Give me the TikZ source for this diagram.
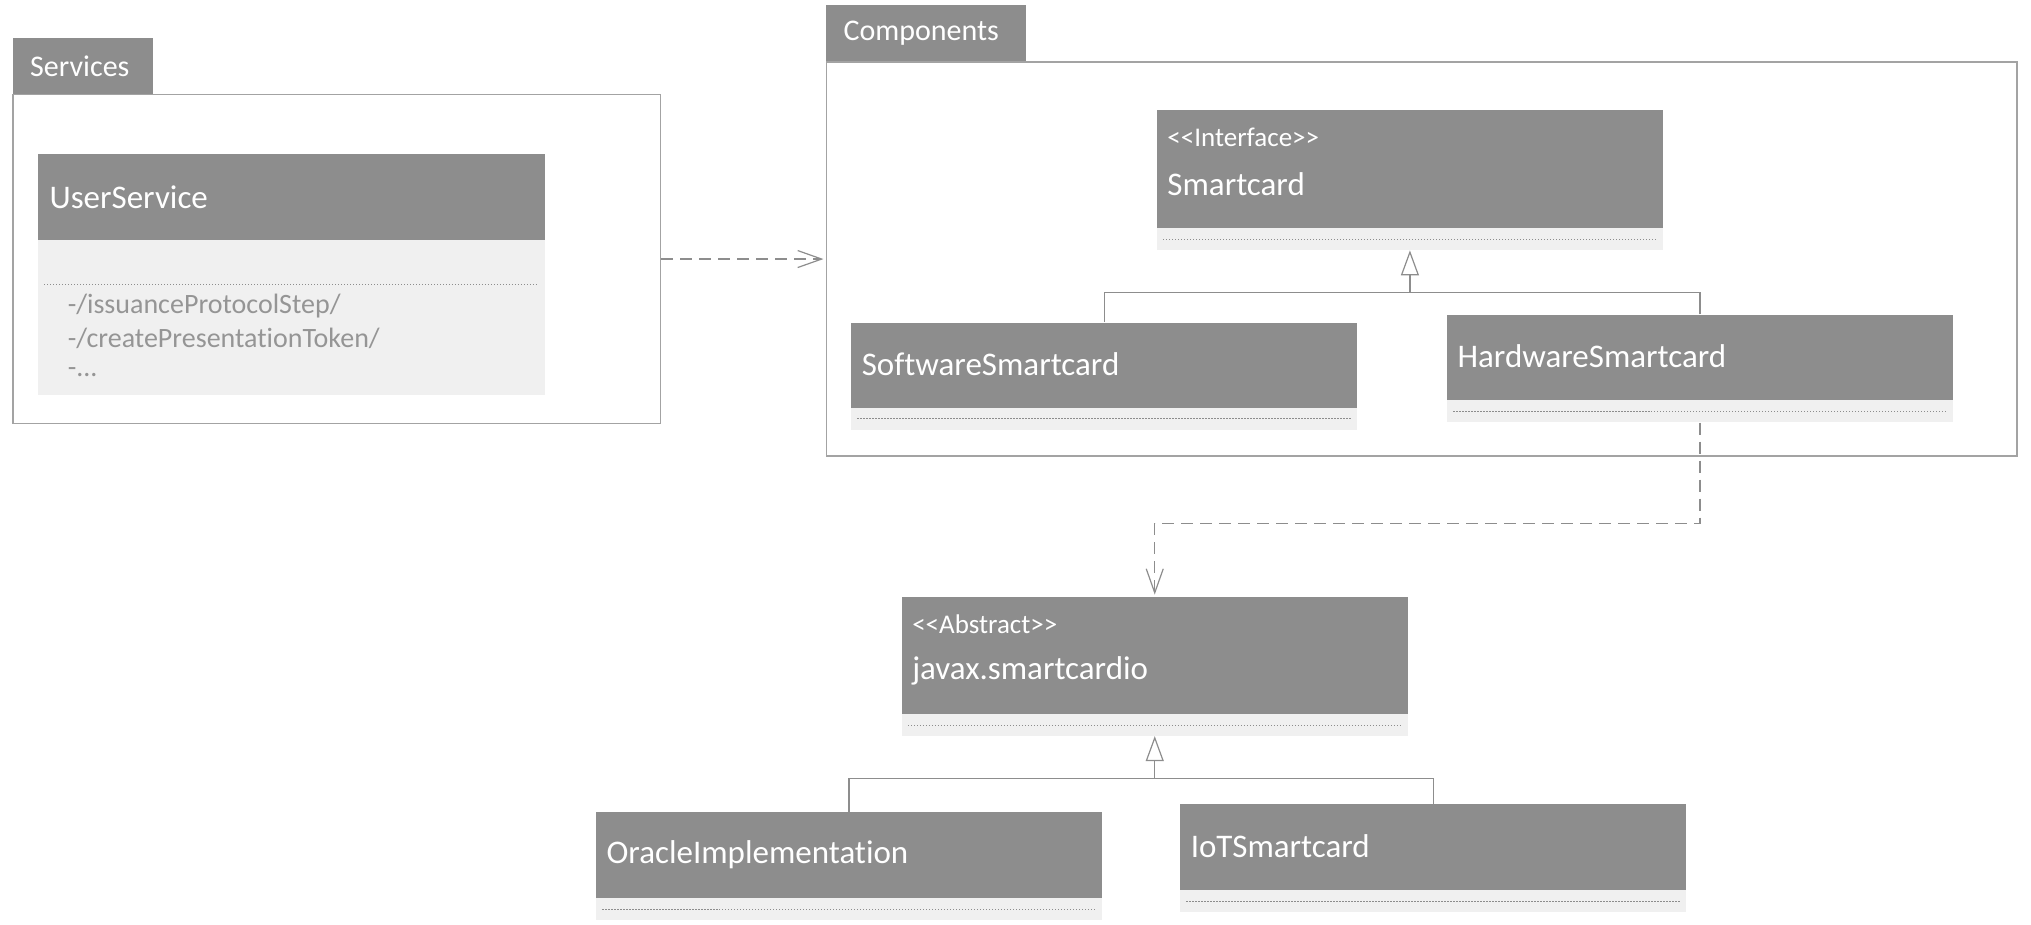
\documentclass[tikz,border=0pt]{standalone}
\usepackage{fontspec}
\setmainfont{Carlito}[Ligatures=NoCommon]
\usepackage{xcolor}
\usetikzlibrary{fit,arrows.meta}
\definecolor{hdrgray}{HTML}{8D8D8D}
\definecolor{bodygray}{HTML}{F0F0F0}
\definecolor{linegray}{HTML}{A3A3A3}
\definecolor{attrgray}{HTML}{959595}

\begin{document}
\begin{tikzpicture}[x=0.6477pt, y=-0.6477pt,
  pkg/.style={rectangle, draw=linegray, line width=0.8pt, fill=white, inner sep=0pt},
  tab/.style={rectangle, fill=hdrgray, inner sep=0pt},
  hdr/.style={rectangle, fill=hdrgray, inner sep=0pt},
  body/.style={rectangle, fill=bodygray, inner sep=0pt},
  title/.style={anchor=west, text=white, inner sep=0pt, font=\fontsize{16.5}{18}\selectfont},
  tabtitle/.style={anchor=west, text=white, inner sep=0pt, font=\fontsize{15}{17}\selectfont},
  stereo/.style={anchor=west, text=white, inner sep=0pt, font=\fontsize{13.5}{15}\selectfont},
  attr/.style={anchor=west, text=attrgray, inner sep=0pt, font=\fontsize{14}{16}\selectfont},
  sep/.style={draw=hdrgray, line width=0.5pt, dash pattern=on 0.6pt off 0.9pt},
  dep/.style={draw=hdrgray, line width=0.6pt, dash pattern=on 6pt off 3.5pt,
    -{Straight Barb[length=12pt, width=8.5pt, line width=0.6pt, sep]}},
  gen/.style={draw=hdrgray, line width=0.6pt,
    -{Triangle[open, length=12.5pt, width=9pt, line width=0.6pt]}},
  link/.style={draw=hdrgray, line width=0.6pt}
]
\useasboundingbox (0,0) rectangle (1568,714);

% Services package
\node[tab, fit={(10,29) (118,73)}] (servtab) {};
\node[pkg, fit={(10,73) (510,327)}] (services) {};
\node[tabtitle] (servlabel) at (23,51) {Services};

% UserService class
\node[hdr, fit={(29,119) (421,185)}] (userhdr) {};
\node[body, fit={(29,185) (421,305)}] (userbody) {};
\node[title] (username) at (38,152) {UserService};
\draw[sep] (34,220) -- (415,220);
\node[attr] (attr1) at (52,236) {-/issuanceProtocolStep/};
\node[attr] (attr2) at (52,261) {-/createPresentationToken/};
\node[attr] (attr3) at (52,287) {-...};

% Components package
\node[tab, fit={(638,4) (792,48)}] (comptab) {};
\node[pkg, fit={(638,48) (1557,352)}] (components) {};
\node[tabtitle] (complabel) at (651,26) {Components};

% Smartcard interface
\node[hdr, fit={(893,85) (1284,176)}] (smarthdr) {};
\node[body, fit={(893,176) (1284,193)}] (smartbody) {};
\node[stereo] (smartst) at (901,106) {<{}<Interface>{}>};
\node[title] (smartname) at (901,142) {Smartcard};
\draw[sep] (898,185) -- (1279,185);

% SoftwareSmartcard
\node[hdr, fit={(657,249) (1048,315)}] (softhdr) {};
\node[body, fit={(657,315) (1048,332)}] (softbody) {};
\node[title] (softname) at (665,281) {SoftwareSmartcard};
\draw[sep] (662,323) -- (1043,323);

% HardwareSmartcard
\node[hdr, fit={(1117,243) (1508,309)}] (hardhdr) {};
\node[body, fit={(1117,309) (1508,326)}] (hardbody) {};
\node[title] (hardname) at (1125,275) {HardwareSmartcard};
\draw[sep] (1122,318) -- (1503,318);

% javax.smartcardio
\node[hdr, fit={(696,461) (1087,551)}] (javahdr) {};
\node[body, fit={(696,551) (1087,568)}] (javabody) {};
\node[stereo] (javast) at (704,482) {<{}<Abstract>{}>};
\node[title] (javaname) at (704,518) {javax.smartcardio};
\draw[sep] (701,560) -- (1082,560);

% OracleImplementation
\node[hdr, fit={(460,627) (851,693)}] (oraclehdr) {};
\node[body, fit={(460,693) (851,710)}] (oraclebody) {};
\node[title] (oraclename) at (468,660) {OracleImplementation};
\draw[sep] (465,702) -- (846,702);

% IoTSmartcard
\node[hdr, fit={(911,621) (1302,687)}] (iothdr) {};
\node[body, fit={(911,687) (1302,704)}] (iotbody) {};
\node[title] (iotname) at (919,653) {IoTSmartcard};
\draw[sep] (916,696) -- (1297,696);

% Generalizations
\coordinate (smartjoin) at (1088.5,226);
\draw[link] (softhdr.north) |- (smartjoin);
\draw[link] (hardhdr.north) |- (smartjoin);
\draw[gen] (smartjoin) -- (smartbody.south);
\coordinate (javajoin) at (891.5,601);
\draw[link] (oraclehdr.north) |- (javajoin);
\draw[link] (iothdr.north) |- (javajoin);
\draw[gen] (javajoin) -- (javabody.south);

% Dependencies
\draw[dep] (services.east) -- (components.west |- services.east);
\coordinate (hardbend) at (1312.5,404);
\draw[dep] (hardbody.south) -- (hardbend) -| (javahdr.north);

\end{tikzpicture}
\end{document}
